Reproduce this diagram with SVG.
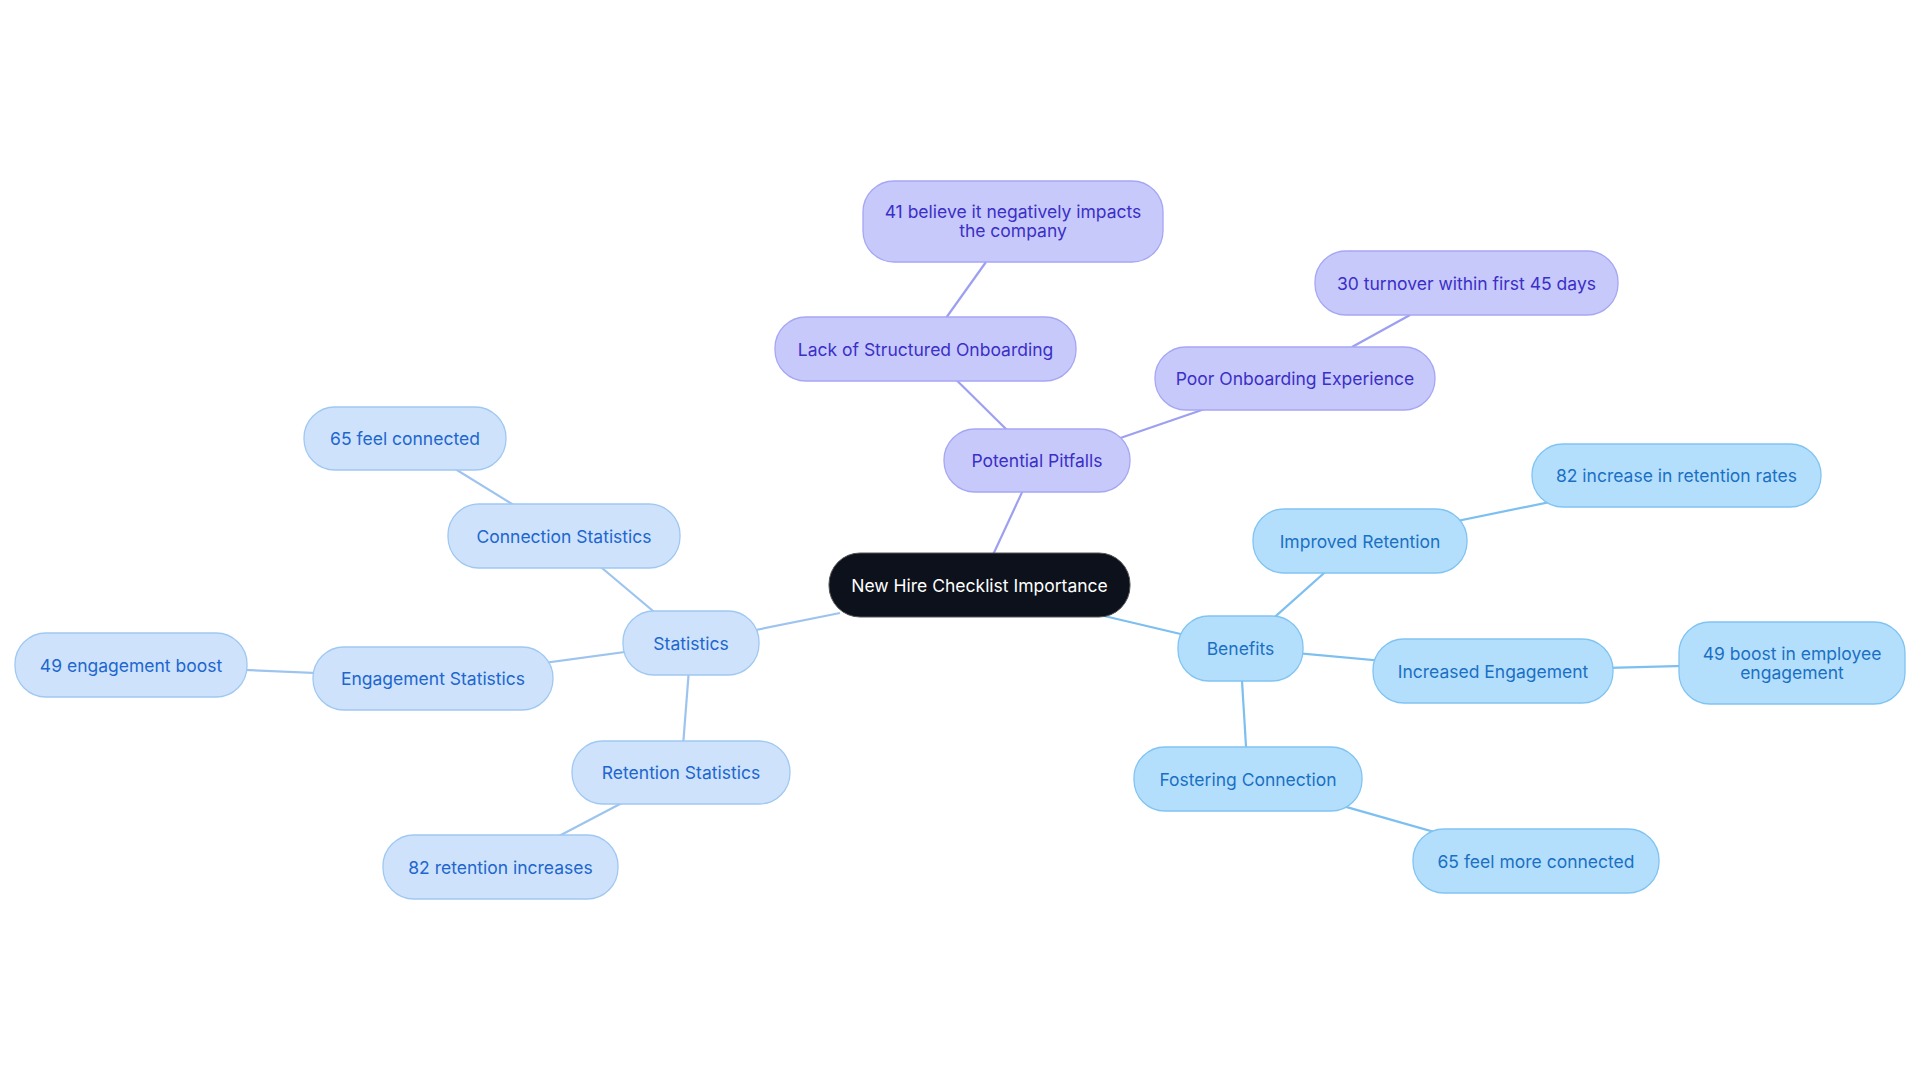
<svg xmlns="http://www.w3.org/2000/svg" width="1920" height="1083" viewBox="0 0 1920 1083">
<style>
text{font-family:Inter,"Noto Sans",sans-serif;font-size:17.5px;text-anchor:middle;dominant-baseline:central}
.p rect{fill:#c8c9fb;stroke:#a5a7f3;stroke-width:1.3}.p text{fill:#3a2fc7}
.b rect{fill:#b4dffc;stroke:#80c4f2;stroke-width:1.3}.b text{fill:#1b70c4}
.s rect{fill:#cee3fb;stroke:#a0c8f2;stroke-width:1.3}.s text{fill:#2166cf}
.c rect{fill:#0c111b;stroke:#555;stroke-width:1}.c text{fill:#fff}
.lp{stroke:#9d9ff0;stroke-width:2.2}.lb{stroke:#7cbff0;stroke-width:2.2}.ls{stroke:#9dc4ef;stroke-width:2.2}
</style>
<rect width="1920" height="1083" fill="#fff"/>
<g id="connectors">
<line class="lp" x1="979" y1="585" x2="1037" y2="460"/>
<line class="lp" x1="1007" y1="430" x2="925" y2="349"/>
<line class="lp" x1="946" y1="318" x2="986" y2="262"/>
<line class="lp" x1="1100" y1="445" x2="1295" y2="378"/>
<line class="lp" x1="1352" y1="347" x2="1410" y2="315"/>
<line class="ls" x1="840" y1="613" x2="691" y2="643"/>
<line class="ls" x1="691" y1="643" x2="564" y2="536"/>
<line class="ls" x1="564" y1="536" x2="405" y2="438"/>
<line class="ls" x1="691" y1="643" x2="433" y2="678"/>
<line class="ls" x1="433" y1="678" x2="131" y2="665"/>
<line class="ls" x1="691" y1="643" x2="681" y2="772"/>
<line class="ls" x1="681" y1="772" x2="500" y2="867"/>
<line class="lb" x1="1100" y1="615" x2="1240" y2="648"/>
<line class="lb" x1="1240" y1="648" x2="1360" y2="541"/>
<line class="lb" x1="1360" y1="541" x2="1676" y2="476"/>
<line class="lb" x1="1240" y1="648" x2="1493" y2="671"/>
<line class="lb" x1="1493" y1="671" x2="1792" y2="663"/>
<line class="lb" x1="1240" y1="648" x2="1248" y2="779"/>
<line class="lb" x1="1248" y1="779" x2="1536" y2="861"/>
</g>
<g id="center" class="c"><rect x="829" y="553" width="301" height="64" rx="31"/><text x="979.5" y="585">New Hire Checklist Importance</text></g>
<g id="pitfalls" class="p"><rect x="944" y="429" width="186" height="63" rx="31"/><text x="1037" y="460.5">Potential Pitfalls</text></g>
<g id="lack" class="p"><rect x="775" y="317" width="301" height="64" rx="31"/><text x="925.5" y="349">Lack of Structured Onboarding</text></g>
<g id="believe" class="p"><rect x="863" y="181" width="300" height="81" rx="31"/><text x="1013" y="211">41 believe it negatively impacts</text><text x="1013" y="230">the company</text></g>
<g id="poor" class="p"><rect x="1155" y="347" width="280" height="63" rx="31"/><text x="1295" y="378.5">Poor Onboarding Experience</text></g>
<g id="turnover" class="p"><rect x="1315" y="251" width="303" height="64" rx="31"/><text x="1466.5" y="283">30 turnover within first 45 days</text></g>
<g id="benefits" class="b"><rect x="1178" y="616" width="125" height="65" rx="31"/><text x="1240.5" y="648.5">Benefits</text></g>
<g id="improved" class="b"><rect x="1253" y="509" width="214" height="64" rx="31"/><text x="1360" y="541">Improved Retention</text></g>
<g id="ret82" class="b"><rect x="1532" y="444" width="289" height="63" rx="31"/><text x="1676.5" y="475.5">82 increase in retention rates</text></g>
<g id="increased" class="b"><rect x="1373" y="639" width="240" height="64" rx="31"/><text x="1493" y="671">Increased Engagement</text></g>
<g id="boost49" class="b"><rect x="1679" y="622" width="226" height="82" rx="31"/><text x="1792" y="653">49 boost in employee</text><text x="1792" y="672">engagement</text></g>
<g id="fostering" class="b"><rect x="1134" y="747" width="228" height="64" rx="31"/><text x="1248" y="779">Fostering Connection</text></g>
<g id="more65" class="b"><rect x="1413" y="829" width="246" height="64" rx="31"/><text x="1536" y="861">65 feel more connected</text></g>
<g id="statistics" class="s"><rect x="623" y="611" width="136" height="64" rx="31"/><text x="691" y="643">Statistics</text></g>
<g id="connstats" class="s"><rect x="448" y="504" width="232" height="64" rx="31"/><text x="564" y="536">Connection Statistics</text></g>
<g id="felt65" class="s"><rect x="304" y="407" width="202" height="63" rx="31"/><text x="405" y="438.5">65 feel connected</text></g>
<g id="engstats" class="s"><rect x="313" y="647" width="240" height="63" rx="31"/><text x="433" y="678.5">Engagement Statistics</text></g>
<g id="eng49" class="s"><rect x="15" y="633" width="232" height="64" rx="31"/><text x="131" y="665">49 engagement boost</text></g>
<g id="retstats" class="s"><rect x="572" y="741" width="218" height="63" rx="31"/><text x="681" y="772.5">Retention Statistics</text></g>
<g id="ret82s" class="s"><rect x="383" y="835" width="235" height="64" rx="31"/><text x="500.5" y="867">82 retention increases</text></g>
</svg>
